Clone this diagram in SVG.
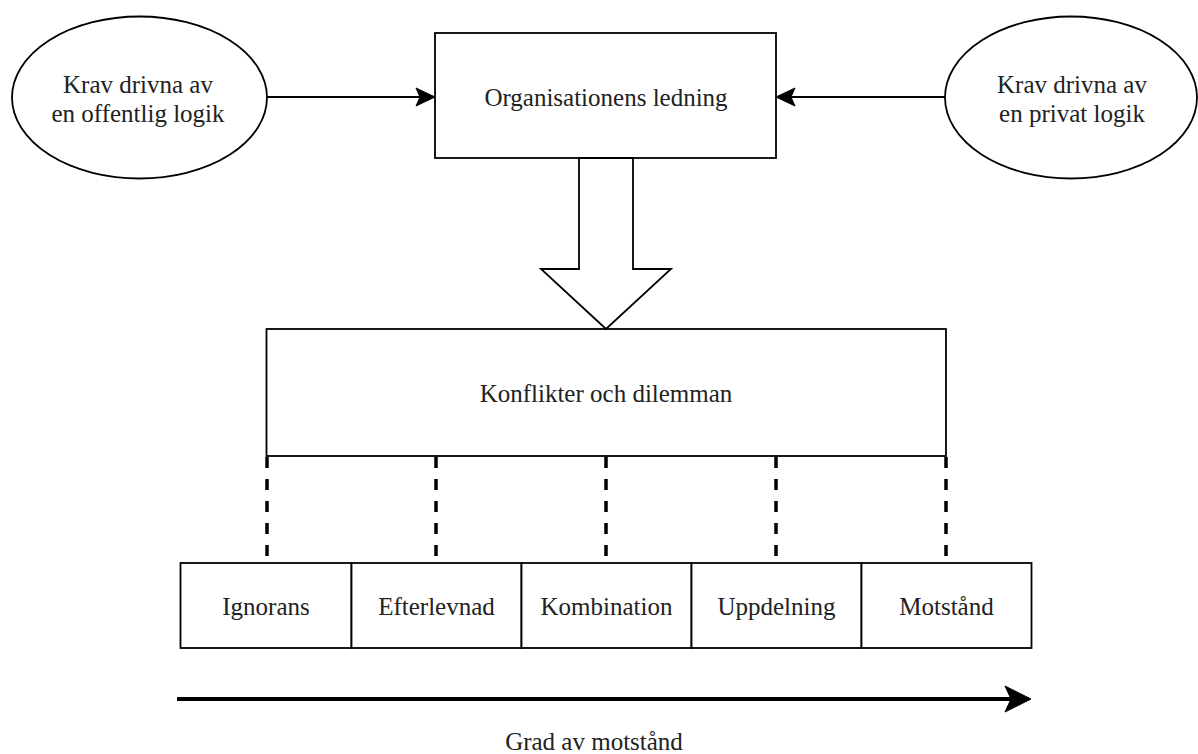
<svg xmlns="http://www.w3.org/2000/svg" width="1198" height="754" viewBox="0 0 1198 754">
<style>
.shape{fill:#fff;stroke:#000;stroke-width:1.8}
.t{font-family:"Liberation Serif","Times New Roman",serif;font-size:25px;fill:#222;text-anchor:middle}
.line{fill:none;stroke:#000;stroke-width:1.8}
.dash{fill:none;stroke:#000;stroke-width:3.5;stroke-dasharray:11 11}
.head{fill:#000;stroke:#000;stroke-width:1}
</style>
<rect width="1198" height="754" fill="#fff"/>
<g id="node-public">
<ellipse class="shape" cx="139.5" cy="97.5" rx="127.5" ry="81"/>
<text class="t" x="138" y="93">Krav drivna av</text>
<text class="t" x="138" y="122">en offentlig logik</text>
</g>
<g id="node-private">
<ellipse class="shape" cx="1071" cy="97.5" rx="126" ry="81"/>
<text class="t" x="1072" y="93">Krav drivna av</text>
<text class="t" x="1072" y="122">en privat logik</text>
</g>
<g id="node-ledning">
<rect class="shape" x="435" y="33" width="341" height="125"/>
<text class="t" x="606" y="106">Organisationens ledning</text>
</g>
<g id="node-konflikter">
<rect class="shape" x="266.5" y="329" width="679.5" height="127"/>
<text class="t" x="606" y="402">Konflikter och dilemman</text>
</g>
<g id="node-ignorans">
<rect class="shape" x="180.5" y="563" width="171" height="85"/>
<text class="t" x="266" y="615">Ignorans</text>
</g>
<g id="node-efterlevnad">
<rect class="shape" x="351.5" y="563" width="170" height="85"/>
<text class="t" x="436.5" y="615">Efterlevnad</text>
</g>
<g id="node-kombination">
<rect class="shape" x="521.5" y="563" width="170" height="85"/>
<text class="t" x="606.5" y="615">Kombination</text>
</g>
<g id="node-uppdelning">
<rect class="shape" x="691.5" y="563" width="170" height="85"/>
<text class="t" x="776.5" y="615">Uppdelning</text>
</g>
<g id="node-motstand">
<rect class="shape" x="861.5" y="563" width="170" height="85"/>
<text class="t" x="946.5" y="615">Motstånd</text>
</g>
<g id="connectors">
<path class="line" d="M267 97 H422"/>
<path class="head" d="M435 97 L416 88 L420 97 L416 106 Z"/>
<path class="line" d="M945 97 H789"/>
<path class="head" d="M776 97 L795 88 L791 97 L795 106 Z"/>
<path class="shape" d="M579 158 H633 V269 H671 L606 329 L541 269 H579 Z"/>
<path class="dash" d="M267 457 V563"/>
<path class="dash" d="M436 457 V563"/>
<path class="dash" d="M606 457 V563"/>
<path class="dash" d="M776 457 V563"/>
<path class="dash" d="M946 457 V563"/>
<path fill="none" stroke="#000" stroke-width="4" d="M177 699 H1014"/>
<path fill="#000" stroke="#000" stroke-width="1" d="M1031 699 L1005 686 L1011 699 L1005 712 Z"/>
</g>
<g id="label-grad">
<text class="t" x="594" y="750">Grad av motstånd</text>
</g>
</svg>
